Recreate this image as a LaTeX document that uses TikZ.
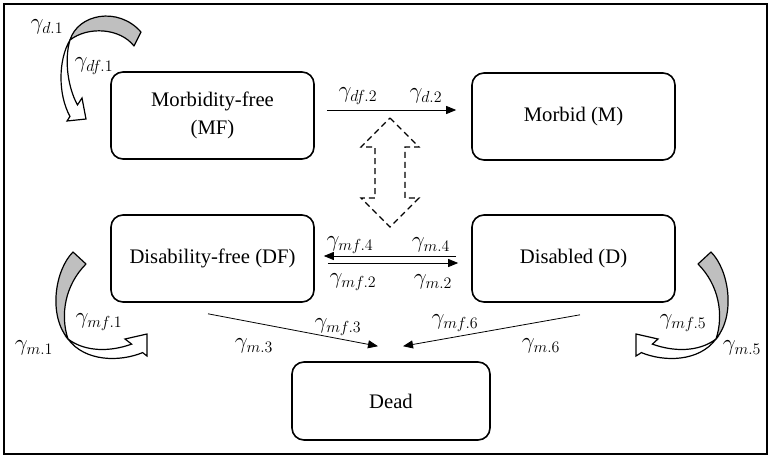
\documentclass[tikz,border=0pt]{standalone}
\usepackage{fontspec}
\setmainfont{Liberation Serif}
\usetikzlibrary{arrows.meta}
\begin{document}
\begin{tikzpicture}[x=0.75pt,y=-0.75pt,
  state/.style={draw, line width=1.2pt, rounded corners=9pt,
    minimum width=152.25pt, minimum height=65.25pt, inner sep=0pt,
    align=center, font=\fontsize{15.5}{20.5}\selectfont},
  flow/.style={line width=0.6pt, -{Triangle[length=7.5pt,width=6pt]}},
  rate/.style={font=\fontsize{17}{19}\selectfont, inner sep=0pt},
  bandback/.style={draw, line width=0.9pt, fill=black!25, line join=round},
  bandfront/.style={draw, line width=0.9pt, fill=white, line join=miter},
  swaparrow/.style={draw, line width=0.9pt, dash pattern=on 4.5pt off 3pt}]

\useasboundingbox (0,0) rectangle (771,460);
\draw[line width=1.5pt] (4,4) rectangle (767,454);

% states
\node[state] (MF) at (212.5,115.5) {Morbidity-free\\(MF)};
\node[state] (M)  at (573.5,116.5) {Morbid (M)};
\node[state] (DF) at (212.5,258.5) {Disability-free (DF)};
\node[state] (D)  at (573.5,258.5) {Disabled (D)};
\node[state, minimum width=148.5pt, minimum height=58.5pt] (Dead) at (391,401) {Dead};

% transitions between states
\draw[flow] ([shift={(12,-5.5)}]MF.east) -- ([shift={(-15,-6.5)}]M.west);
\draw[flow] ([shift={(-15,-2.5)}]D.west) -- ([shift={(9,-2.5)}]DF.east);
\draw[flow] ([shift={(13,4.5)}]DF.east) -- ([shift={(-13,4.5)}]D.west);
\draw[flow] ([shift={(-4.5,11)}]DF.south) -- ([shift={(-13,-15)}]Dead.north);
\draw[flow] ([shift={(6.5,12)}]D.south) -- ([shift={(12,-15)}]Dead.north);

% two-way dashed block arrow
\path[swaparrow] (390,118) -- (419,147) -- (405,147) -- (405,198) -- (419,198)
  -- (390,227) -- (361,198) -- (375,198) -- (375,147) -- (361,147) -- cycle;

% curved self-transition, top left
\path[bandback] (70,40) .. controls (78,14) and (118,6) .. (141,32)
  -- (134,46) .. controls (120,28) and (88,26) .. (70,40) -- cycle;
\path[bandfront] (70,40) .. controls (58,60) and (58,95) .. (70,116.4)
  -- (67,121) -- (86,119) -- (82,98) -- (77.5,104.9)
  .. controls (68,88) and (64,60) .. (70,40) -- cycle;

% curved self-transition, bottom left
\path[bandback] (73,252) .. controls (55,270) and (48,315) .. (68,339)
  .. controls (60,315) and (65,285) .. (86,264) -- cycle;
\path[bandfront] (68,339) .. controls (85,362) and (120,362) .. (142.6,352.6)
  -- (147,356) -- (147,334) -- (125,339) -- (131.6,344.1)
  .. controls (110,352) and (85,352) .. (68,339) -- cycle;

% curved self-transition, bottom right
\path[bandback] (711,252) .. controls (729,270) and (736,315) .. (716,339)
  .. controls (724,315) and (719,285) .. (698,264) -- cycle;
\path[bandfront] (716,339) .. controls (699,362) and (664,362) .. (641.4,352.6)
  -- (636,356) -- (636,334) -- (658,339) -- (652.4,344.1)
  .. controls (674,352) and (699,352) .. (716,339) -- cycle;

% transition rates
\node[rate] (rd1)  at (47,27)   {$\gamma_{d.1}$};
\node[rate] (rdf1) at (94,66)   {$\gamma_{df.1}$};
\node[rate] (rdf2) at (358,96)  {$\gamma_{df.2}$};
\node[rate] (rd2)  at (426,96)  {$\gamma_{d.2}$};
\node[rate] (rmf4) at (350,245) {$\gamma_{mf.4}$};
\node[rate] (rm4)  at (431,245) {$\gamma_{m.4}$};
\node[rate] (rmf2) at (353,282) {$\gamma_{mf.2}$};
\node[rate] (rm2)  at (433,282) {$\gamma_{m.2}$};
\node[rate] (rmf3) at (338,327) {$\gamma_{mf.3}$};
\node[rate] (rm3)  at (254,346) {$\gamma_{m.3}$};
\node[rate] (rmf6) at (455,323) {$\gamma_{mf.6}$};
\node[rate] (rm6)  at (541,346) {$\gamma_{m.6}$};
\node[rate] (rm1)  at (34,348)  {$\gamma_{m.1}$};
\node[rate] (rmf1) at (99,322)  {$\gamma_{mf.1}$};
\node[rate] (rmf5) at (683,323) {$\gamma_{mf.5}$};
\node[rate] (rm5)  at (742,348) {$\gamma_{m.5}$};
\end{tikzpicture}
\end{document}
